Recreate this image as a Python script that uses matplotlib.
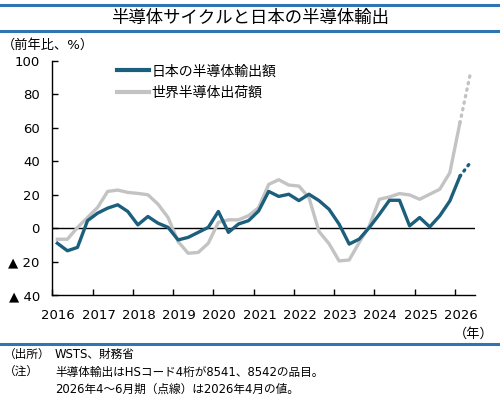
import numpy as np
import matplotlib
matplotlib.use('Agg')
import matplotlib.pyplot as plt
import matplotlib.transforms as mtransforms
from matplotlib.lines import Line2D

plt.rcParams['font.family'] = ['DejaVu Sans', 'Noto Sans CJK JP']

# 四半期データ（前年比、%） 2016Q1〜2026Q1、最後は2026Q2（4月の値）
japan = [-9, -13.5, -11.5, 4.5, 9, 12, 14, 10, 2, 7, 3, 0.5,
         -7, -5.5, -2.5, 0.5, 10, -2.5, 2.5, 4.5, 10.3, 22, 19, 20.3,
         16.5, 20.3, 16.5, 11.3, 2.4, -9.5, -6.5, 0.4, 8.3, 16.7, 16.7, 1.4,
         6.4, 0.8, 7.4, 16.3, 31]
japan_apr = 39
world = [-6.6, -6.6, 0.4, 6.4, 12.4, 22, 22.8, 21.4, 20.8, 20, 14.4, 6.4,
         -8, -15, -14.5, -9, 3.5, 5, 5, 7.5, 12.3, 26.2, 29, 25.8,
         25.2, 18.3, -2, -9.3, -19.6, -19, -8.5, 1.4, 17.3, 18.7, 20.7, 19.9,
         17.3, 20.3, 23.3, 33.2, 63]
world_apr = 91.5

years = list(range(2016, 2027))
yticks = [-40, -20, 0, 20, 40, 60, 80, 100]
ytick_labels = ['▲ 40', '▲ 20', '0', '20', '40', '60', '80', '100']

x = 2016.125 + 0.25 * np.arange(len(japan))
x_apr = x[-1] + 0.25

fig = plt.figure(figsize=(5, 4.15), dpi=100)
ax = fig.add_axes([0.1046, 0.289, 0.8454, 0.564])

jp_color = '#1c5f7c'
wd_color = '#c3c3c3'

ax.axhline(0, color='black', lw=1.0, zorder=1)
ax.plot(x, world, color=wd_color, lw=2.4, label='世界半導体出荷額', zorder=2)
ax.plot(x, japan, color=jp_color, lw=2.4, label='日本の半導体輸出額', zorder=3)
ax.plot([x[-1], x_apr], [world[-1], world_apr], color=wd_color, lw=2.4,
        linestyle=(0, (0.4, 1.6)), dash_capstyle='round', zorder=2)
ax.plot([x[-1], x_apr], [japan[-1], japan_apr], color=jp_color, lw=2.4,
        linestyle=(0, (0.4, 1.6)), dash_capstyle='round', zorder=3)

ax.set_xlim(2016, 2026.5)
ax.set_ylim(-40, 100)
ax.set_xticks(years)
ax.set_xticklabels([str(y) for y in years], fontsize=9.5)
ax.set_yticks(yticks)
ax.set_yticklabels(ytick_labels, fontsize=9.5)
ax.tick_params(axis='both', direction='in', length=4, width=1, colors='black')
ax.tick_params(axis='x', pad=10)
ax.tick_params(axis='y', pad=9)
offset = mtransforms.ScaledTranslation(6 / 100, 0, fig.dpi_scale_trans)
for lab in ax.get_xticklabels():
    lab.set_transform(lab.get_transform() + offset)

for s in ['top', 'right']:
    ax.spines[s].set_visible(False)
for s in ['left', 'bottom']:
    ax.spines[s].set_linewidth(1.0)

handles = [Line2D([], [], color=jp_color, lw=3), Line2D([], [], color=wd_color, lw=3)]
fig.legend(handles, ['日本の半導体輸出額', '世界半導体出荷額'], loc='upper left',
           bbox_to_anchor=(0.234, 0.845), frameon=False, fontsize=10,
           handlelength=2.3, handletextpad=0.2, labelspacing=0.55, borderpad=0,
           borderaxespad=0)

# タイトル帯
blue = '#2e75b6'
fig.add_artist(Line2D([0, 1], [1 - 5 / 415, 1 - 5 / 415], color=blue, lw=2.2))
fig.add_artist(Line2D([0, 1], [1 - 31 / 415, 1 - 31 / 415], color=blue, lw=2.2))
fig.add_artist(Line2D([0, 1], [1 - 344 / 415, 1 - 344 / 415], color=blue, lw=2.2))
fig.text(0.5, 1 - 18 / 415, '半導体サイクルと日本の半導体輸出', ha='center', va='center', fontsize=12.5)

fig.text(2 / 500, 1 - 45 / 415, '（前年比、%）', ha='left', va='center', fontsize=9.5)
fig.text(494 / 500, 1 - 334 / 415, '（年）', ha='right', va='center', fontsize=9.5)

fig.text(4 / 500, 1 - 354 / 415, '（出所）', ha='left', va='center', fontsize=8.4)
fig.text(55 / 500, 1 - 354 / 415, 'WSTS、財務省', ha='left', va='center', fontsize=8.4)
fig.text(4 / 500, 1 - 372 / 415, '（注）', ha='left', va='center', fontsize=8.4)
fig.text(55 / 500, 1 - 372 / 415, '半導体輸出はHSコード4桁が8541、8542の品目。', ha='left', va='center', fontsize=8.4)
fig.text(55 / 500, 1 - 389 / 415, '2026年4～6月期（点線）は2026年4月の値。', ha='left', va='center', fontsize=8.4)

fig.savefig('out.png', dpi=100)
